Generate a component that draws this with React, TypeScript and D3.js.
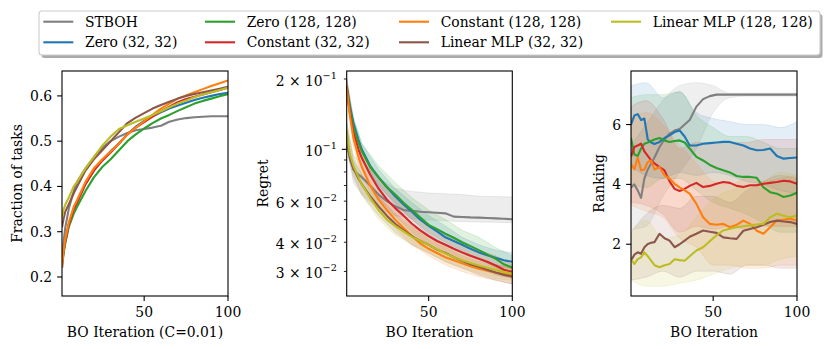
import React from "react";
import * as d3 from "d3";

// ---------- series meta ----------
const seriesNames = [
  "STBOH",
  "Zero (32, 32)",
  "Zero (128, 128)",
  "Constant (32, 32)",
  "Constant (128, 128)",
  "Linear MLP (32, 32)",
  "Linear MLP (128, 128)",
];
const seriesColors = ["#7f7f7f", "#1f77b4", "#2ca02c", "#d62728", "#ff7f0e", "#8c564b", "#bcbd22"];

// ---------- panel 1: fraction of tasks ----------
const iterXs = [1, 2, 3, 5, 8, 10, 15, 20, 25, 30, 35, 40, 45, 50, 55, 60, 65, 70, 75, 80, 85, 90, 95, 100];
const fracSTBOH = [0.24, 0.28, 0.31, 0.35, 0.39, 0.41, 0.44, 0.465, 0.485, 0.5, 0.51, 0.518, 0.524, 0.527, 0.53, 0.534, 0.543, 0.548, 0.551, 0.553, 0.554, 0.555, 0.555, 0.555];
const fracZero32 = [0.22, 0.255, 0.28, 0.315, 0.35, 0.365, 0.405, 0.435, 0.458, 0.478, 0.495, 0.515, 0.532, 0.545, 0.555, 0.564, 0.572, 0.579, 0.585, 0.591, 0.596, 0.6, 0.604, 0.607];
const fracZero128 = [0.23, 0.255, 0.275, 0.31, 0.34, 0.355, 0.39, 0.42, 0.443, 0.46, 0.48, 0.5, 0.515, 0.528, 0.54, 0.55, 0.558, 0.567, 0.575, 0.583, 0.589, 0.594, 0.599, 0.604];
const fracConst32 = [0.23, 0.26, 0.28, 0.315, 0.35, 0.365, 0.405, 0.435, 0.457, 0.475, 0.495, 0.515, 0.53, 0.542, 0.554, 0.566, 0.576, 0.586, 0.593, 0.598, 0.603, 0.608, 0.613, 0.618];
const fracConst128 = [0.22, 0.26, 0.285, 0.32, 0.355, 0.37, 0.41, 0.44, 0.46, 0.477, 0.495, 0.515, 0.53, 0.544, 0.558, 0.572, 0.583, 0.594, 0.601, 0.608, 0.615, 0.622, 0.628, 0.634];
const fracMLP32 = [0.31, 0.33, 0.345, 0.36, 0.385, 0.4, 0.435, 0.46, 0.48, 0.5, 0.52, 0.54, 0.552, 0.562, 0.572, 0.58, 0.587, 0.594, 0.6, 0.604, 0.608, 0.612, 0.616, 0.62];
const fracMLP128 = [0.33, 0.35, 0.36, 0.375, 0.4, 0.41, 0.44, 0.465, 0.49, 0.51, 0.527, 0.535, 0.543, 0.55, 0.558, 0.566, 0.575, 0.583, 0.59, 0.597, 0.603, 0.608, 0.613, 0.618];
const fracTicks = [0.2, 0.3, 0.4, 0.5, 0.6];

// ---------- panel 2: regret (log) ----------
const regSTBOH = [0.118, 0.1, 0.09, 0.082, 0.078, 0.076, 0.07, 0.064, 0.06, 0.057, 0.055, 0.0545, 0.054, 0.0538, 0.0535, 0.0532, 0.0515, 0.0513, 0.0511, 0.051, 0.0508, 0.0506, 0.0504, 0.0502];
const regZero32 = [0.186, 0.168, 0.152, 0.13, 0.11, 0.1, 0.085, 0.076, 0.069, 0.063, 0.058, 0.054, 0.05, 0.047, 0.0445, 0.042, 0.0405, 0.039, 0.0375, 0.0362, 0.0352, 0.0343, 0.0335, 0.033];
const regZero128 = [0.186, 0.165, 0.148, 0.125, 0.107, 0.098, 0.084, 0.076, 0.069, 0.064, 0.059, 0.055, 0.051, 0.0475, 0.0455, 0.0435, 0.0418, 0.04, 0.0385, 0.037, 0.0355, 0.034, 0.0322, 0.0312];
const regConst32 = [0.186, 0.16, 0.142, 0.118, 0.1, 0.092, 0.078, 0.068, 0.061, 0.056, 0.052, 0.048, 0.045, 0.0425, 0.0405, 0.039, 0.0375, 0.0362, 0.035, 0.034, 0.033, 0.0318, 0.0305, 0.0298];
const regConst128 = [0.186, 0.158, 0.138, 0.112, 0.093, 0.084, 0.07, 0.061, 0.055, 0.05, 0.046, 0.0425, 0.0395, 0.0375, 0.036, 0.0345, 0.0335, 0.0325, 0.0316, 0.0308, 0.0302, 0.0297, 0.0293, 0.029];
const regMLP32 = [0.113, 0.1, 0.092, 0.083, 0.075, 0.071, 0.063, 0.057, 0.052, 0.048, 0.045, 0.0425, 0.0405, 0.039, 0.0372, 0.036, 0.0345, 0.0333, 0.0322, 0.0314, 0.0305, 0.0297, 0.029, 0.0285];
const regMLP128 = [0.12, 0.105, 0.095, 0.085, 0.076, 0.071, 0.062, 0.055, 0.05, 0.047, 0.0445, 0.0422, 0.0405, 0.039, 0.0373, 0.0358, 0.0345, 0.0335, 0.0326, 0.0318, 0.0311, 0.0304, 0.0298, 0.0294];

const regBandXs = [1, 5, 10, 20, 30, 40, 50, 60, 70, 80, 90, 100];
const regLowSTBOH = [0.105, 0.072, 0.064, 0.056, 0.052, 0.0505, 0.0498, 0.0494, 0.049, 0.0488, 0.0487, 0.0485];
const regHighSTBOH = [0.13, 0.094, 0.088, 0.075, 0.068, 0.066, 0.065, 0.0645, 0.064, 0.063, 0.0628, 0.0625];
const regLowZero32 = [0.175, 0.12, 0.092, 0.07, 0.058, 0.05, 0.043, 0.039, 0.036, 0.034, 0.032, 0.031];
const regHighZero32 = [0.2, 0.138, 0.106, 0.082, 0.068, 0.059, 0.052, 0.047, 0.042, 0.039, 0.037, 0.036];
const regLowZero128 = [0.175, 0.115, 0.09, 0.07, 0.059, 0.05, 0.044, 0.04, 0.037, 0.034, 0.031, 0.029];
const regHighZero128 = [0.2, 0.135, 0.106, 0.085, 0.072, 0.062, 0.055, 0.05, 0.045, 0.042, 0.038, 0.035];
const regLowConst32 = [0.17, 0.108, 0.085, 0.062, 0.052, 0.044, 0.039, 0.036, 0.033, 0.031, 0.029, 0.028];
const regHighConst32 = [0.2, 0.13, 0.1, 0.075, 0.062, 0.053, 0.047, 0.043, 0.04, 0.037, 0.035, 0.032];
const regLowConst128 = [0.17, 0.103, 0.077, 0.056, 0.046, 0.039, 0.035, 0.032, 0.03, 0.0285, 0.0275, 0.0265];
const regHighConst128 = [0.2, 0.122, 0.092, 0.067, 0.055, 0.047, 0.041, 0.038, 0.035, 0.033, 0.032, 0.031];
const regLowMLP32 = [0.1, 0.076, 0.064, 0.052, 0.044, 0.039, 0.036, 0.033, 0.031, 0.029, 0.0275, 0.0265];
const regHighMLP32 = [0.125, 0.09, 0.078, 0.063, 0.053, 0.047, 0.043, 0.039, 0.036, 0.034, 0.032, 0.031];
const regLowMLP128 = [0.108, 0.078, 0.064, 0.05, 0.043, 0.039, 0.036, 0.033, 0.031, 0.0295, 0.028, 0.0275];
const regHighMLP128 = [0.132, 0.092, 0.078, 0.06, 0.052, 0.046, 0.042, 0.039, 0.036, 0.034, 0.032, 0.031];

const regMajorTicks = [0.1];
const regMinorTicks = [0.2, 0.09, 0.08, 0.07, 0.06, 0.05, 0.04, 0.03];
const regTickLabels: [number, string, string][] = [
  [0.2, "2 × 10", "−1"],
  [0.1, "10", "−1"],
  [0.06, "6 × 10", "−2"],
  [0.04, "4 × 10", "−2"],
  [0.03, "3 × 10", "−2"],
];

// ---------- panel 3: ranking ----------
const rankXs = [1, 3, 5, 7, 9, 11, 13, 15, 18, 21, 24, 27, 30, 33, 36, 40, 44, 48, 52, 56, 60, 64, 68, 72, 76, 80, 84, 88, 92, 96, 100];
const rankSTBOH = [3.9, 4.0, 3.8, 3.55, 4.2, 4.5, 4.7, 4.9, 5.25, 5.5, 5.7, 5.8, 5.85, 6.0, 6.15, 6.6, 6.85, 6.95, 7.0, 7.0, 7.0, 7.0, 7.0, 7.0, 7.0, 7.0, 7.0, 7.0, 7.0, 7.0, 7.0];
const rankZero32 = [6.0, 6.3, 6.35, 6.15, 6.2, 5.5, 5.4, 5.35, 5.42, 5.55, 5.64, 5.75, 5.8, 5.6, 5.3, 5.3, 5.36, 5.38, 5.4, 5.42, 5.42, 5.36, 5.3, 5.2, 5.14, 5.15, 5.2, 4.95, 4.86, 4.88, 4.9];
const rankZero128 = [5.55, 5.0, 4.95, 5.2, 5.36, 5.4, 5.45, 5.5, 5.55, 5.47, 5.42, 5.45, 5.47, 5.4, 5.2, 4.92, 4.8, 4.65, 4.55, 4.47, 4.4, 4.28, 4.25, 4.25, 4.22, 3.9, 3.74, 3.69, 3.58, 3.63, 3.72];
const rankConst32 = [4.92, 5.25, 5.3, 5.36, 5.1, 4.95, 4.8, 4.7, 4.58, 4.47, 4.1, 3.85, 3.78, 3.85, 3.95, 4.05, 3.91, 3.95, 4.02, 4.08, 4.05, 3.95, 3.91, 3.97, 3.97, 4.02, 4.05, 4.08, 4.12, 4.1, 4.02];
const rankConst128 = [4.69, 4.5, 4.9, 4.47, 4.5, 4.75, 4.8, 4.5, 4.58, 4.3, 4.19, 4.02, 3.9, 3.8, 3.69, 3.35, 2.9, 2.68, 2.65, 2.68, 2.57, 2.65, 2.79, 2.68, 2.45, 2.35, 2.57, 2.79, 2.82, 2.85, 2.79];
const rankMLP32 = [1.45, 1.65, 1.73, 1.68, 1.9, 2.01, 2.05, 2.07, 2.35, 2.2, 2.12, 1.9, 2.0, 2.12, 2.25, 2.35, 2.46, 2.42, 2.38, 2.23, 2.2, 2.18, 2.45, 2.51, 2.57, 2.65, 2.74, 2.79, 2.76, 2.74, 2.68];
const rankMLP128 = [1.5, 1.34, 1.5, 1.56, 1.73, 1.6, 1.45, 1.3, 1.23, 1.3, 1.34, 1.5, 1.47, 1.45, 1.6, 1.79, 1.9, 2.1, 2.3, 2.46, 2.52, 2.57, 2.6, 2.63, 2.66, 2.68, 2.9, 3.02, 2.95, 2.9, 2.96];

const rankBandXs = [1, 10, 20, 30, 40, 50, 60, 70, 80, 90, 100];
const rankLowSTBOH = [2.5, 2.6, 3.6, 4.4, 5.2, 6.4, 6.9, 6.95, 6.95, 6.95, 6.95];
const rankHighSTBOH = [5.3, 6.0, 6.8, 7.3, 7.4, 7.3, 7.05, 7.05, 7.05, 7.05, 7.05];
const rankLowZero32 = [4.6, 4.3, 4.2, 4.4, 4.3, 4.4, 4.3, 4.1, 4.0, 3.8, 3.7];
const rankHighZero32 = [7.3, 7.4, 6.9, 7.1, 6.4, 6.2, 6.1, 6.0, 6.0, 5.9, 6.1];
const rankLowZero128 = [4.0, 3.9, 4.2, 4.2, 3.8, 3.4, 3.2, 3.0, 2.7, 2.4, 2.4];
const rankHighZero128 = [6.9, 7.0, 7.0, 7.1, 6.3, 5.9, 5.6, 5.6, 5.4, 5.2, 5.2];
const rankLowConst32 = [3.4, 3.3, 3.0, 2.4, 2.6, 2.5, 2.6, 2.5, 2.6, 2.6, 2.6];
const rankHighConst32 = [6.6, 6.8, 6.2, 5.2, 5.4, 5.4, 5.4, 5.4, 5.5, 5.5, 5.5];
const rankLowConst128 = [3.3, 3.1, 2.9, 2.2, 1.9, 1.3, 1.3, 1.2, 1.2, 1.3, 1.3];
const rankHighConst128 = [6.2, 6.4, 6.0, 5.3, 4.7, 4.1, 4.0, 4.2, 4.1, 4.2, 4.3];
const rankLowMLP32 = [0.8, 0.9, 1.1, 0.9, 1.1, 1.1, 1.0, 1.3, 1.3, 1.2, 1.2];
const rankHighMLP32 = [2.4, 3.0, 3.3, 3.2, 3.6, 3.6, 3.4, 3.8, 4.1, 4.3, 4.2];
const rankLowMLP128 = [0.8, 0.6, 0.6, 0.7, 0.8, 1.0, 1.2, 1.3, 1.3, 1.5, 1.6];
const rankHighMLP128 = [2.4, 2.8, 2.2, 2.3, 2.9, 3.5, 3.8, 3.9, 4.1, 4.4, 4.3];
const rankTicks = [2, 4, 6];

const xTicks = [50, 100];

// ---------- grouped for drawing ----------
const fracSeries = [fracSTBOH, fracZero32, fracZero128, fracConst32, fracConst128, fracMLP32, fracMLP128];
const regSeries = [regSTBOH, regZero32, regZero128, regConst32, regConst128, regMLP32, regMLP128];
const regLows = [regLowSTBOH, regLowZero32, regLowZero128, regLowConst32, regLowConst128, regLowMLP32, regLowMLP128];
const regHighs = [regHighSTBOH, regHighZero32, regHighZero128, regHighConst32, regHighConst128, regHighMLP32, regHighMLP128];
const rankSeries = [rankSTBOH, rankZero32, rankZero128, rankConst32, rankConst128, rankMLP32, rankMLP128];
const rankLows = [rankLowSTBOH, rankLowZero32, rankLowZero128, rankLowConst32, rankLowConst128, rankLowMLP32, rankLowMLP128];
const rankHighs = [rankHighSTBOH, rankHighZero32, rankHighZero128, rankHighConst32, rankHighConst128, rankHighMLP32, rankHighMLP128];

const FONT = "'DejaVu Serif', serif";
const FS = 13.9;
const TOP = 71;
const BOTTOM = 296;
const TICK = 4.9;
const MINOR = 2.8;
const PAD = 4.9;

type Scale = (v: number) => number;

function XAxis({ x, label }: { x: d3.ScaleLinear<number, number>; label: string }) {
  const [r0, r1] = x.range();
  return (
    <g>
      {xTicks.map((t) => (
        <g key={t}>
          <line x1={x(t)} x2={x(t)} y1={BOTTOM} y2={BOTTOM + TICK} stroke="#000" strokeWidth={1.1} />
          <text x={x(t)} y={BOTTOM + TICK + PAD + 6.5} textAnchor="middle" dominantBaseline="central" fontFamily={FONT} fontSize={FS}>
            {t}
          </text>
        </g>
      ))}
      <text x={(r0 + r1) / 2} y={332} textAnchor="middle" dominantBaseline="central" fontFamily={FONT} fontSize={FS}>
        {label}
      </text>
    </g>
  );
}

function Frame({ x0, x1 }: { x0: number; x1: number }) {
  return <rect x={x0} y={TOP} width={x1 - x0} height={BOTTOM - TOP} fill="none" stroke="#000" strokeWidth={1.1} />;
}

function FractionPanel() {
  const x0 = 62, x1 = 228;
  const x = d3.scaleLinear().domain([1, 100]).range([x0, x1]);
  const y = d3.scaleLinear().domain([0.158, 0.655]).range([BOTTOM, TOP]);
  const line = d3.line<number>().x((_, i) => x(iterXs[i])).y((v) => y(v));
  return (
    <g>
      <defs>
        <clipPath id="clip1"><rect x={x0} y={TOP} width={x1 - x0} height={BOTTOM - TOP} /></clipPath>
      </defs>
      <g clipPath="url(#clip1)">
        {fracSeries.map((s, k) => (
          <path key={k} d={line(s) || ""} fill="none" stroke={seriesColors[k]} strokeWidth={2.1} strokeLinejoin="round" />
        ))}
      </g>
      {fracTicks.map((t) => (
        <g key={t}>
          <line x1={x0 - TICK} x2={x0} y1={y(t)} y2={y(t)} stroke="#000" strokeWidth={1.1} />
          <text x={x0 - TICK - PAD} y={y(t)} textAnchor="end" dominantBaseline="central" fontFamily={FONT} fontSize={FS}>
            {t.toFixed(1)}
          </text>
        </g>
      ))}
      <text transform={`translate(17,${(TOP + BOTTOM) / 2}) rotate(-90)`} textAnchor="middle" dominantBaseline="central" fontFamily={FONT} fontSize={FS}>
        Fraction of tasks
      </text>
      <XAxis x={x} label="BO Iteration (C=0.01)" />
      <Frame x0={x0} x1={x1} />
    </g>
  );
}

function RegretPanel() {
  const x0 = 346.7, x1 = 512.3;
  const x = d3.scaleLinear().domain([1, 100]).range([x0, x1]);
  const y = d3.scaleLog().domain([0.02355, 0.2164]).range([BOTTOM, TOP]);
  const line = d3.line<number>().x((_, i) => x(iterXs[i])).y((v) => y(v));
  const area = (lo: number[], hi: number[]) =>
    d3.area<number>().x((_, i) => x(regBandXs[i])).y0((_, i) => y(lo[i])).y1((_, i) => y(hi[i]))(lo) || "";
  return (
    <g>
      <defs>
        <clipPath id="clip2"><rect x={x0} y={TOP} width={x1 - x0} height={BOTTOM - TOP} /></clipPath>
      </defs>
      <g clipPath="url(#clip2)">
        {regSeries.map((s, k) => (
          <path key={"b" + k} d={area(regLows[k], regHighs[k])} fill={seriesColors[k]} fillOpacity={0.14} stroke={seriesColors[k]} strokeOpacity={0.14} />
        ))}
        {regSeries.map((s, k) => (
          <path key={k} d={line(s) || ""} fill="none" stroke={seriesColors[k]} strokeWidth={2.1} strokeLinejoin="round" />
        ))}
      </g>
      {regMajorTicks.map((t) => (
        <line key={t} x1={x0 - TICK} x2={x0} y1={y(t)} y2={y(t)} stroke="#000" strokeWidth={1.1} />
      ))}
      {regMinorTicks.map((t) => (
        <line key={t} x1={x0 - MINOR} x2={x0} y1={y(t)} y2={y(t)} stroke="#000" strokeWidth={0.85} />
      ))}
      {regTickLabels.map(([t, base, exp]) => (
        <text key={t} x={x0 - TICK - PAD} y={y(t) + 2} textAnchor="end" dominantBaseline="central" fontFamily={FONT} fontSize={FS}>
          <tspan>{base}</tspan>
          <tspan dy={-6} fontSize={9.7}>{exp}</tspan>
        </text>
      ))}
      <text transform={`translate(263,${(TOP + BOTTOM) / 2}) rotate(-90)`} textAnchor="middle" dominantBaseline="central" fontFamily={FONT} fontSize={FS}>
        Regret
      </text>
      <XAxis x={x} label="BO Iteration" />
      <Frame x0={x0} x1={x1} />
    </g>
  );
}

function RankingPanel() {
  const x0 = 631, x1 = 797;
  const x = d3.scaleLinear().domain([1, 100]).range([x0, x1]);
  const y = d3.scaleLinear().domain([0.27, 7.79]).range([BOTTOM, TOP]);
  const line = d3.line<number>().x((_, i) => x(rankXs[i])).y((v) => y(v));
  const area = (lo: number[], hi: number[]) =>
    d3.area<number>().x((_, i) => x(rankBandXs[i])).y0((_, i) => y(lo[i])).y1((_, i) => y(hi[i])).curve(d3.curveMonotoneX)(lo) || "";
  return (
    <g>
      <defs>
        <clipPath id="clip3"><rect x={x0} y={TOP} width={x1 - x0} height={BOTTOM - TOP} /></clipPath>
      </defs>
      <g clipPath="url(#clip3)">
        {rankSeries.map((s, k) => (
          <path key={"b" + k} d={area(rankLows[k], rankHighs[k])} fill={seriesColors[k]} fillOpacity={0.12} stroke={seriesColors[k]} strokeOpacity={0.12} />
        ))}
        {rankSeries.map((s, k) => (
          <path key={k} d={line(s) || ""} fill="none" stroke={seriesColors[k]} strokeWidth={2.1} strokeLinejoin="round" />
        ))}
      </g>
      {rankTicks.map((t) => (
        <g key={t}>
          <line x1={x0 - TICK} x2={x0} y1={y(t)} y2={y(t)} stroke="#000" strokeWidth={1.1} />
          <text x={x0 - TICK - PAD} y={y(t)} textAnchor="end" dominantBaseline="central" fontFamily={FONT} fontSize={FS}>
            {t}
          </text>
        </g>
      ))}
      <text transform={`translate(599,${(TOP + BOTTOM) / 2}) rotate(-90)`} textAnchor="middle" dominantBaseline="central" fontFamily={FONT} fontSize={FS}>
        Ranking
      </text>
      <XAxis x={x} label="BO Iteration" />
      <Frame x0={x0} x1={x1} />
    </g>
  );
}

const legendCols = [43.3, 205, 399, 611];
const legendRows = [21.7, 42.3];

function Legend() {
  const bx = 39, by = 11, bw = 781, bh = 44;
  return (
    <g>
      <rect x={bx + 2.5} y={by + 3} width={bw} height={bh} rx={3} fill="#666" fillOpacity={0.55} />
      <rect x={bx} y={by} width={bw} height={bh} rx={3} fill="#fff" stroke="#cccccc" strokeWidth={1.1} />
      {seriesNames.map((name, k) => {
        const col = Math.floor(k / 2);
        const row = k % 2;
        const lx = legendCols[col];
        const ly = legendRows[row];
        return (
          <g key={name}>
            <line x1={lx} x2={lx + 30} y1={ly} y2={ly} stroke={seriesColors[k]} strokeWidth={2.1} />
            <text x={lx + 41.7} y={ly} dominantBaseline="central" fontFamily={FONT} fontSize={FS}>
              {name}
            </text>
          </g>
        );
      })}
    </g>
  );
}

export default function App() {
  return (
    <div style={{ position: "fixed", left: 0, top: 0 }}>
      <svg width={830} height={349} viewBox="0 0 830 349" style={{ display: "block", background: "#fff" }}>
        <rect width={830} height={349} fill="#fff" />
        <FractionPanel />
        <RegretPanel />
        <RankingPanel />
        <Legend />
      </svg>
    </div>
  );
}
